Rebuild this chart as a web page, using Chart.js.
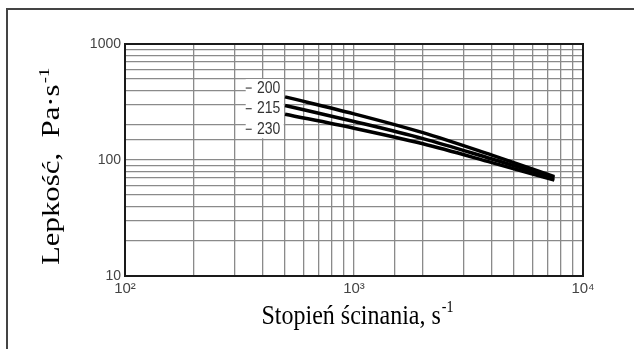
<!DOCTYPE html>
<html>
<head>
<meta charset="utf-8">
<script src="https://cdn.jsdelivr.net/npm/chart.js@4.4.1/dist/chart.umd.min.js"></script>
<style>
html,body{margin:0;padding:0;background:#fff;}
#ramka{position:absolute;left:6px;top:8px;width:700px;height:400px;border-left:2px solid #444;border-top:2px solid #444;}
#wykres{position:absolute;left:0;top:0;}
</style>
</head>
<body>
<div id="ramka"></div>
<canvas id="wykres" width="634" height="349"></canvas>
<script>
// dane
var szybkosc=[500,1000,2000,4000,7500];
var lepkosc200=[350,250,172,110,72];
var lepkosc215=[295,215,153,102,70];
var lepkosc230=[248,188,138,95,67];
var temperatury=["200","215","230"];
var etykietyY=[10,100,1000];
var etykietyX=["10²","10³","10⁴"];

function punkty(v){
  return szybkosc.map(function(s,i){return {x:s,y:v[i]};});
}
function potega(v){
  var l=Math.log10(v);
  return Math.abs(l-Math.round(l))<1e-9;
}

var ramkaWykresu={
  id:"ramkaWykresu",
  beforeDatasetsDraw:function(chart){
    var c=chart.ctx,a=chart.chartArea;
    c.save();
    c.strokeStyle="#1a1a1a";
    c.lineWidth=2;
    c.strokeRect(a.left,a.top,a.right-a.left,a.bottom-a.top);
    c.restore();
  }
};

// opisy krzywych (200, 215, 230)
var opisy={
  id:"opisy",
  afterDatasetsDraw:function(chart){
    var c=chart.ctx,x=chart.scales.x,y=chart.scales.y;
    var poz=[417,277,184];
    var px=x.getPixelForValue(420);
    c.save();
    c.fillStyle="#fff";
    var g=y.getPixelForValue(poz[0])-9, d=y.getPixelForValue(poz[2])+9;
    c.fillRect(px-22,g,38,d-g);
    c.font="14px 'Liberation Sans', Arial, sans-serif";
    c.textAlign="center";
    c.textBaseline="middle";
    temperatury.forEach(function(t,i){
      var py=y.getPixelForValue(poz[i]);
      c.strokeStyle="#555";
      c.lineWidth=1.3;
      c.beginPath();c.moveTo(px-22,py);c.lineTo(px-16,py);c.stroke();
      c.fillStyle="#333";
      c.save();
      c.translate(px+1,py);
      c.scale(1,1.2);
      c.fillText(t,0,0);
      c.restore();
    });
    c.restore();
  }
};

// tytuły osi z indeksem górnym
function napis(c,tekst,sup,size,dl){
  var f="px 'Liberation Serif', 'Times New Roman', serif";
  var fs=Math.round(size*0.6);
  c.font=size+f;
  var w1=c.measureText(tekst).width;
  c.font=fs+f;
  var w2=c.measureText(sup).width;
  if(dl)c.scale(dl/(w1+w2),1);
  var x0=-(w1+w2)/2;
  c.font=size+f;
  c.fillText(tekst,x0,0);
  c.font=fs+f;
  c.fillText(sup,x0+w1+1,-size*0.42);
}
var tytuly={
  id:"tytuly",
  afterDraw:function(chart){
    var c=chart.ctx,a=chart.chartArea;
    c.save();
    c.fillStyle="#000";
    c.textAlign="left";
    c.textBaseline="alphabetic";
    c.save();
    c.translate((a.left+a.right)/2+3,a.bottom+48);
    c.scale(1,1.15);
    napis(c,"Stopień ścinania, s","-1",24);
    c.restore();
    c.save();
    c.translate(a.left-66,(a.top+a.bottom)/2+7);
    c.rotate(-Math.PI/2);
    napis(c,"Lepkość,  Pa·s","-1",25,196);
    c.restore();
    c.restore();
  }
};

var linia={borderColor:"#000",borderWidth:3.5,pointRadius:0,fill:false,cubicInterpolationMode:"monotone"};

new Chart(document.getElementById("wykres").getContext("2d"),{
  type:"line",
  data:{
    datasets:[
      Object.assign({label:temperatury[0],data:punkty(lepkosc200)},linia),
      Object.assign({label:temperatury[1],data:punkty(lepkosc215)},linia),
      Object.assign({label:temperatury[2],data:punkty(lepkosc230)},linia)
    ]
  },
  options:{
    responsive:false,
    animation:false,
    layout:{padding:{left:20,top:44,right:51,bottom:0}},
    plugins:{legend:{display:false},tooltip:{enabled:false}},
    scales:{
      x:{
        type:"logarithmic",min:100,max:10000,
        afterFit:function(s){s.height=73;},
        grid:{color:"#8a8a8a",lineWidth:1.3,drawTicks:false},
        border:{color:"#1a1a1a",width:2},
        ticks:{
          autoSkip:false,maxRotation:0,padding:4,color:"#444",
          font:{family:"'Liberation Sans', Arial, sans-serif",size:15},
          callback:function(v){
            if(!potega(v))return "";
            return etykietyX[Math.round(Math.log10(v))-2];
          }
        }
      },
      y:{
        type:"logarithmic",min:10,max:1000,
        afterFit:function(s){s.width=105;},
        grid:{color:"#8a8a8a",lineWidth:1.3,drawTicks:false},
        border:{color:"#1a1a1a",width:2},
        ticks:{
          autoSkip:false,padding:4,color:"#444",
          font:{family:"'Liberation Sans', Arial, sans-serif",size:14},
          callback:function(v){
            return (potega(v)&&etykietyY.indexOf(Math.round(v))>=0)?String(Math.round(v)):"";
          }
        }
      }
    }
  },
  plugins:[ramkaWykresu,opisy,tytuly]
});
</script>
</body>
</html>
